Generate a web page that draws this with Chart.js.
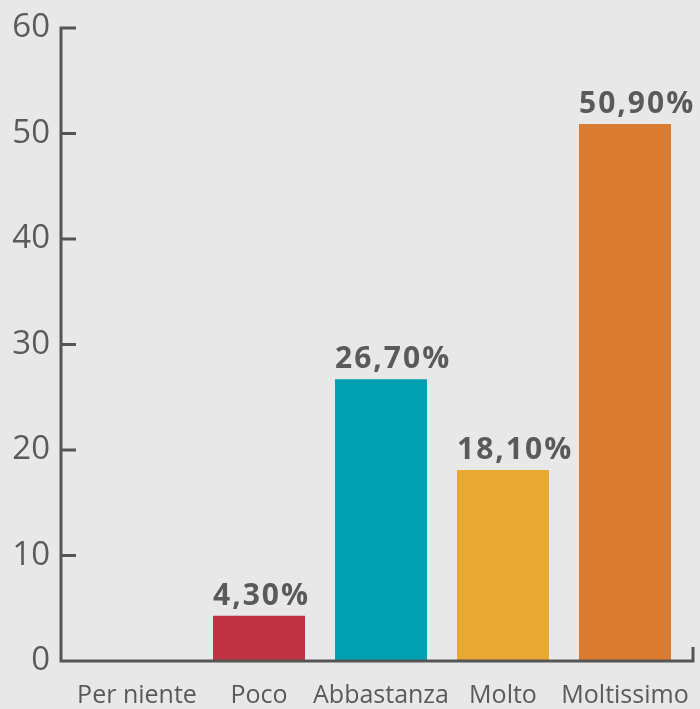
<!DOCTYPE html>
<html>
<head>
<meta charset="utf-8">
<script src="https://cdn.jsdelivr.net/npm/chart.js@4/dist/chart.umd.min.js"></script>
<style>
html,body{margin:0;padding:0;background:#e8e8e8;}
#wrap{width:700px;height:709px;position:relative;}
</style>
</head>
<body>
<div id="wrap"><canvas id="c" width="700" height="709"></canvas></div>
<script>
const categories = ["Per niente", "Poco", "Abbastanza", "Molto", "Moltissimo"];
const values = [0, 4.3, 26.7, 18.1, 50.9];
const valueLabels = ["", "4,30%", "26,70%", "18,10%", "50,90%"];
const barColors = ["#e8e8e8", "#c03342", "#00a0b0", "#e8a832", "#da7b32"];
const yTicks = [0, 10, 20, 30, 40, 50, 60];

const FONT = "'Open Sans', sans-serif";
const TEXT = "#5a5a5a";
const AXIS = "#555555";

const axisPlugin = {
  id: 'axisPlugin',
  afterDatasetsDraw(chart) {
    const ctx = chart.ctx;
    const y = chart.scales.y;
    const area = chart.chartArea;
    const axX = area.left - 15;
    const axRight = area.right + 7;
    const y0 = y.getPixelForValue(0);
    const yTop = y.getPixelForValue(60);
    ctx.save();
    ctx.strokeStyle = AXIS;
    ctx.lineWidth = 3;
    ctx.lineCap = 'butt';
    ctx.beginPath();
    ctx.moveTo(axX, yTop - 1.5);
    ctx.lineTo(axX, y0 + 1.5);
    ctx.moveTo(axX - 1.5, y0);
    ctx.lineTo(axRight + 1.5, y0);
    ctx.moveTo(axRight, y0);
    ctx.lineTo(axRight, y0 - 14);
    yTicks.forEach(v => {
      const py = y.getPixelForValue(v);
      ctx.moveTo(axX, py);
      ctx.lineTo(axX + 15, py);
    });
    ctx.stroke();
    // value labels
    const meta = chart.getDatasetMeta(0);
    ctx.fillStyle = TEXT;
    ctx.font = "bold 30px " + FONT;
    try { ctx.letterSpacing = "2px"; } catch (e) {}
    ctx.textAlign = 'left';
    ctx.textBaseline = 'alphabetic';
    meta.data.forEach((bar, i) => {
      if (!valueLabels[i]) return;
      ctx.fillText(valueLabels[i], bar.x - bar.width / 2, bar.y - 11);
    });
    ctx.restore();
  }
};

new Chart(document.getElementById('c'), {
  type: 'bar',
  data: {
    labels: categories,
    datasets: [{
      data: values,
      backgroundColor: barColors,
      borderWidth: 0,
      categoryPercentage: 1,
      barPercentage: 0.754
    }]
  },
  options: {
    responsive: false,
    animation: false,
    devicePixelRatio: 1,
    layout: { padding: { top: 28, right: 14, left: 0, bottom: 0 } },
    plugins: { legend: { display: false }, tooltip: { enabled: false } },
    scales: {
      x: {
        grid: { display: false, drawTicks: false },
        border: { display: false },
        ticks: { color: TEXT, font: { family: FONT, size: 25 }, padding: 20, maxRotation: 0, autoSkip: false },
        afterFit(s) { s.height = 48; s.paddingLeft = 0; s.paddingRight = 0; }
      },
      y: {
        min: 0, max: 60,
        afterBuildTicks(s) { s.ticks = yTicks.map(v => ({ value: v })); },
        grid: { display: false, drawTicks: false },
        border: { display: false },
        ticks: { color: TEXT, font: { family: FONT, size: 33 }, padding: 26 },
        afterFit(s) { s.width = 76; s.paddingTop = 0; s.paddingBottom = 0; }
      }
    }
  },
  plugins: [axisPlugin]
});
</script>
</body>
</html>
